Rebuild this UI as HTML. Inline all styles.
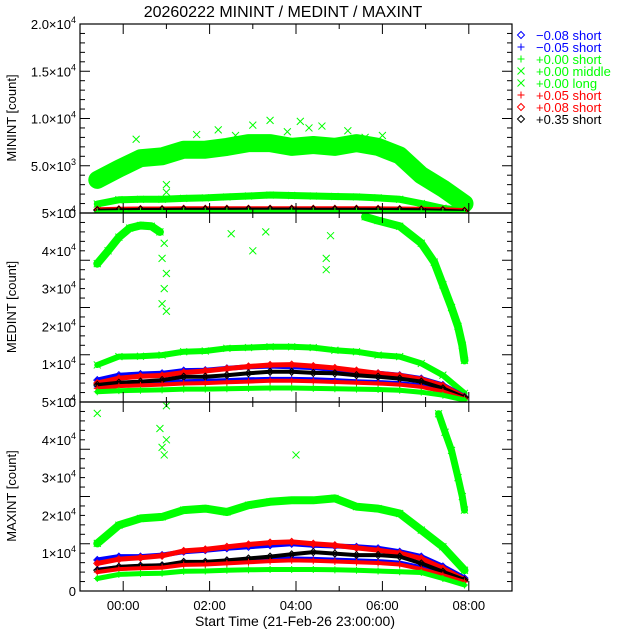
<!DOCTYPE html>
<html><head><meta charset="utf-8"><style>
html,body{margin:0;padding:0;background:#fff;}
svg{display:block;font-family:"Liberation Sans",sans-serif;}
</style></head><body>
<svg id="c" width="640" height="640" viewBox="0 0 640 640" xmlns="http://www.w3.org/2000/svg">
<rect width="640" height="640" fill="#fff"/>
<text x="283" y="17" font-size="16" text-anchor="middle">20260222 MININT / MEDINT / MAXINT</text>
<text x="295" y="626" font-size="14" text-anchor="middle">Start Time (21-Feb-26 23:00:00)</text>
<text transform="translate(16,118) rotate(-90)" font-size="13" text-anchor="middle">MININT [count]</text>
<text transform="translate(16,307) rotate(-90)" font-size="13" text-anchor="middle">MEDINT [count]</text>
<text transform="translate(16,496) rotate(-90)" font-size="13" text-anchor="middle">MAXINT [count]</text>
<defs>
<clipPath id="cp0"><rect x="80" y="24" width="432" height="189"/></clipPath>
<clipPath id="cp1"><rect x="80" y="213" width="432" height="189"/></clipPath>
<clipPath id="cp2"><rect x="80" y="402" width="432" height="189"/></clipPath>
</defs>
<g id="panels"></g>
<g id="legend"></g>
</svg>
<script>
const T = [-0.6,-0.1,0.4,0.9,1.4,1.9,2.4,2.9,3.4,3.9,4.4,4.9,5.4,5.9,6.4,6.9,7.4,7.9];
const xTickHours = [0,2,4,6,8];
const xTickLabels = ["00:00","02:00","04:00","06:00","08:00"];
// MININT
const minGreenMid = [3500,4700,5800,6000,6700,6700,7000,7400,7400,7000,7200,7000,7400,7000,6100,4000,2600,1000];
const minGreenLong = [950,1400,1450,1450,1550,1600,1700,1800,1900,1850,1800,1750,1700,1600,1450,1000,500,250];
const minRed = [350,400,420,420,450,450,450,460,460,460,450,450,450,440,420,400,350,250];
const minBlack = [300,350,380,380,400,400,400,410,410,410,400,400,400,390,380,350,300,200];
const minGreenShort = [120,150,160,160,170,170,170,180,180,180,170,170,170,160,150,130,100,60];
const minOutT = [1.0,1.0,3.0,3.4,4.1,2.2,5.2,1.7,4.6,0.3,2.6,3.8,5.6,6.0,4.3];
const minOutV = [3000,2200,9300,9800,9700,8800,8700,8300,9200,7800,8200,8600,8000,8200,9000];
// MEDINT
const medLongT1 = [-0.6,-0.35,-0.1,0.15,0.4,0.65,0.85];
const medLongV1 = [36600,40000,43600,46000,46700,46500,45000];
const medLongT2 = [5.6,5.9,6.4,6.9,7.2,7.4,7.6,7.75,7.85,7.9];
const medLongV2 = [49000,48000,46500,42000,37000,31000,25000,20000,15000,11000];
const medOutT = [0.9,0.95,0.9,1.0,1.0,0.95,3.0,2.5,4.7,4.7,4.8,3.3];
const medOutV = [38000,30000,26000,24000,34000,42000,40000,44500,38000,35000,44000,45000];
const medGreenMid = [9800,12000,12100,12400,13300,13500,14200,14400,14600,14600,14400,13700,13300,12400,12000,10200,7100,2300];
const medBlueD = [5800,7100,7400,7600,8300,8400,8900,9300,9500,9300,9100,8600,8000,7600,7100,6200,4500,1400];
const medRedD = [5000,6300,6800,7000,7800,8200,8800,9400,9800,9900,9500,9000,8300,7600,7000,6000,4300,1300];
const medBlackD = [4500,5100,5400,5800,6700,6700,7100,7600,8000,8000,7700,7600,7100,6700,6200,5400,3600,1200];
const medRedP = [3600,4200,4400,4600,4900,5000,5200,5400,5600,5600,5500,5300,5100,4900,4600,4000,2800,800];
const medBlueP = [4000,4600,4900,5200,5500,5600,5800,6000,6100,6100,6000,5800,5500,5300,5000,4400,3200,900];
const medGreenShort = [2700,3000,3100,3200,3400,3400,3500,3600,3700,3700,3600,3500,3400,3300,3100,2600,1800,500];
// MAXINT
const maxGreenLong = [12600,17400,19200,19600,21400,21800,20900,22700,23600,24000,24000,24500,22300,21800,20500,16100,11700,5500];
const maxMidT = [7.3,7.45,7.6,7.75,7.85,7.9];
const maxMidV = [46900,42000,37200,30000,25000,21400];
const maxOutT = [-0.6,0.85,0.95,0.9,1.0,1.0,4.0];
const maxOutV = [47000,43000,36000,38000,40000,49000,36000];
const maxBlueD = [8200,9100,9100,9500,10400,10800,11300,11700,12100,12500,12100,11900,11700,11300,10400,9100,6500,3400];
const maxRedD = [7300,8400,8800,9300,10600,11000,11700,12300,12800,13000,12500,12100,11400,10800,10000,8600,6000,3000];
const maxBlackD = [5500,6400,6700,6800,7700,7700,8100,8600,9100,9700,10300,9900,9500,9500,9100,7300,5100,2900];
const maxRedP = [5000,5800,6000,6200,6900,7000,7300,7600,7900,8100,8000,7800,7600,7400,7000,5800,4200,2400];
const maxBlueP = [5700,6300,6600,6800,7400,7600,7900,8200,8400,8600,8500,8300,8100,7900,7500,6300,4600,2600];
const maxGreenShort = [3300,4400,4600,4700,5200,5300,5500,5600,5700,5700,5700,5600,5500,5300,5100,4900,3300,1600];

const NS = "http://www.w3.org/2000/svg";
const G = "#00ff00", B = "#0000ff", R = "#ff0000", K = "#000000";
const X0 = 80, XW = 432, H = 189;
function xs(t){ return X0 + (t + 1) / 10 * XW; }
function mk(tag, attrs, parent){ const e = document.createElementNS(NS, tag); for (const k in attrs) e.setAttribute(k, attrs[k]); parent.appendChild(e); return e; }
function marker(g, kind, x, y, col){
  let d;
  if (kind === "d") d = `M${x-3.5} ${y}L${x} ${y-3.5}L${x+3.5} ${y}L${x} ${y+3.5}Z`;
  else if (kind === "p") d = `M${x-3.5} ${y}H${x+3.5}M${x} ${y-3.5}V${y+3.5}`;
  else d = `M${x-3.5} ${y-3.5}L${x+3.5} ${y+3.5}M${x+3.5} ${y-3.5}L${x-3.5} ${y+3.5}`;
  const p = mk("path", {d: d, stroke: col, fill: "none", "stroke-width": 1}, g);
  
  
}
const panelsG = document.getElementById("panels");
const panels = [
  {top:24, max:20000, cp:"cp0", name:"minint"},
  {top:213, max:50000, cp:"cp1", name:"medint"},
  {top:402, max:50000, cp:"cp2", name:"maxint"}
];
function ys(p, v){ return p.top + H - v / p.max * H; }
function series(p, g, ts, vs, kind, col, bw, name){
  const sg = mk("g", {}, g);
  
  
  const pts = ts.map((t,i)=>xs(t).toFixed(1)+","+ys(p,vs[i]).toFixed(1)).join(" ");
  if (bw > 0) mk("polyline", {points: pts, fill: "none", stroke: col, "stroke-width": bw, "stroke-linejoin": "round", "stroke-linecap":"round"}, sg);
  ts.forEach((t,i)=>marker(sg, kind, xs(t), ys(p, vs[i]), col));
}
function scatter(p, g, ts, vs, kind, col, name){ series(p, g, ts, vs, kind, col, 0, name); }

panels.forEach((p, pi) => {
  const g = mk("g", {"clip-path": `url(#${p.cp})`}, panelsG);
  
  
  if (pi === 0) {
    series(p,g,T,minGreenMid,"x",G,18,"series-00-middle");
    scatter(p,g,minOutT,minOutV,"x",G,"outliers-00-middle");
    series(p,g,T,minGreenLong,"x",G,7,"series-00-long");
    series(p,g,T,minRed,"d",R,5,"series-p08-short");
    series(p,g,T,minBlack,"d",K,3,"series-p35-short");
    series(p,g,T,minGreenShort,"p",G,3,"series-00-short");
  } else if (pi === 1) {
    series(p,g,medLongT1,medLongV1,"x",G,8,"series-00-middle-a");
    series(p,g,medLongT2,medLongV2,"x",G,8,"series-00-middle-b");
    scatter(p,g,medOutT,medOutV,"x",G,"outliers-00-middle");
    series(p,g,T,medGreenMid,"x",G,6,"series-00-long");
    series(p,g,T,medBlueD,"d",B,5,"series-m08-short");
    series(p,g,T,medRedD,"d",R,5,"series-p08-short");
    series(p,g,T,medBlueP,"p",B,4,"series-m05-short");
    series(p,g,T,medBlackD,"d",K,4,"series-p35-short");
    series(p,g,T,medRedP,"p",R,4,"series-p05-short");
    series(p,g,T,medGreenShort,"p",G,5,"series-00-short");
  } else {
    series(p,g,T,maxGreenLong,"x",G,8,"series-00-long");
    series(p,g,maxMidT,maxMidV,"x",G,7,"series-00-middle");
    scatter(p,g,maxOutT,maxOutV,"x",G,"outliers-00-middle");
    series(p,g,T,maxBlueD,"d",B,5,"series-m08-short");
    series(p,g,T,maxRedD,"d",R,5,"series-p08-short");
    series(p,g,T,maxBlueP,"p",B,4,"series-m05-short");
    series(p,g,T,maxBlackD,"d",K,4,"series-p35-short");
    series(p,g,T,maxRedP,"p",R,4,"series-p05-short");
    series(p,g,T,maxGreenShort,"p",G,5,"series-00-short");
  }
  const fr = mk("rect", {x:X0, y:p.top, width:XW, height:H, fill:"none", stroke:"#000", "stroke-width":1.2}, panelsG);
  
  
  const ax = mk("g", {stroke:"#000", "stroke-width":1}, panelsG);
  
  
  const step = p.max / 20;
  for (let i = 0; i <= 20; i++) {
    const y = ys(p, i*step), len = (i % 5 === 0) ? 10 : 5;
    mk("line", {x1:X0, x2:X0+len, y1:y, y2:y}, ax);
    mk("line", {x1:X0+XW, x2:X0+XW-len, y1:y, y2:y}, ax);
  }
  for (let h = -1; h <= 9; h++) {
    const x = xs(h), len = (h % 2 === 0) ? 10 : 5;
    mk("line", {x1:x, x2:x, y1:p.top+H, y2:p.top+H-len}, ax);
    mk("line", {x1:x, x2:x, y1:p.top, y2:p.top+len}, ax);
  }
  const labs = pi === 0 ? [["0",""],["5.0×10","3"],["1.0×10","4"],["1.5×10","4"],["2.0×10","4"]]
                        : [["0",""],["1×10","4"],["2×10","4"],["3×10","4"],["4×10","4"],["5×10","4"]];
  const n = labs.length - 1;
  labs.forEach((l, i) => {
    const y = p.top + H - i / n * H;
    const t = mk("text", {x: 76, y: y + 5, "font-size": 13, "text-anchor": "end"}, panelsG);
    
    
    t.textContent = l[0];
    if (l[1]) { const s = mk("tspan", {"font-size": 9, dy: -6}, t); s.textContent = l[1]; }
  });
});
xTickHours.forEach((h, i) => {
  const t = mk("text", {x: xs(h), y: 610, "font-size": 13, "text-anchor": "middle"}, panelsG);
  
  
  t.textContent = xTickLabels[i];
});
const legKinds = ["d","p","p","x","x","p","d","d"];
const legCols = [B,B,G,G,G,R,R,K];
const legText = ["\u22120.08 short","\u22120.05 short","+0.00 short","+0.00 middle","+0.00 long","+0.05 short","+0.08 short","+0.35 short"];
const lg = document.getElementById("legend");


legText.forEach((s, i) => {
  const y = 35 + i * 12;
  const e = mk("g", {}, lg);
  
  
  marker(e, legKinds[i], 521, y, legCols[i]);
  const t = mk("text", {x: 536, y: y + 5, "font-size": 13, fill: legCols[i]}, e);
  t.textContent = s;
});
</script>
</body></html>
